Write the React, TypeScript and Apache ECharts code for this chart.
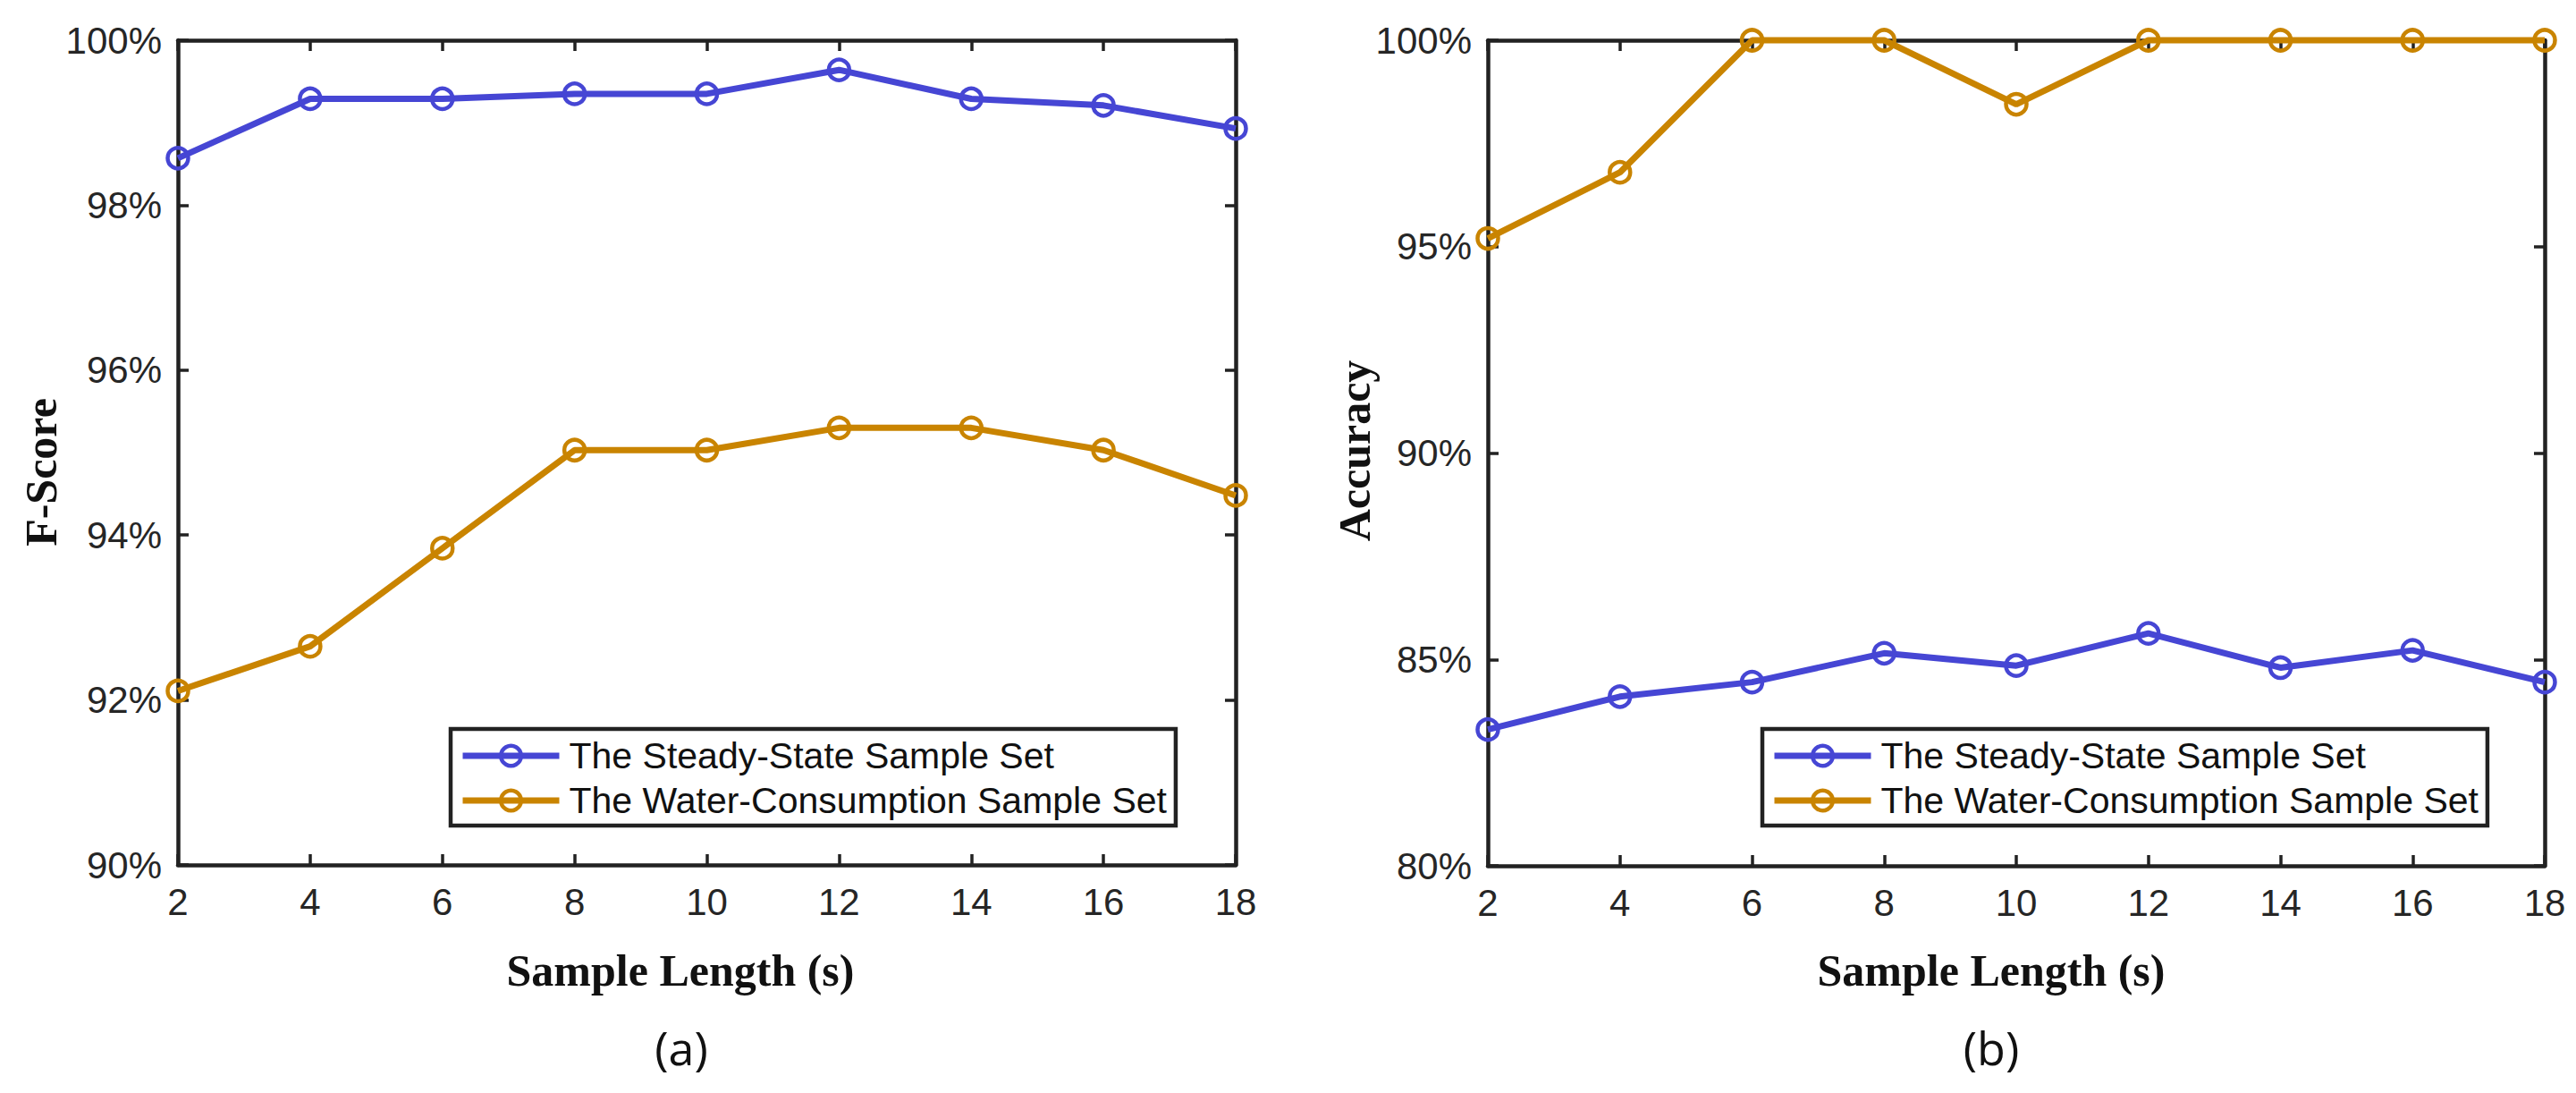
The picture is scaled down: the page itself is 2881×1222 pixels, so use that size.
import React, { useEffect, useRef } from "react";
import * as echarts from "echarts";

// ---------- data ----------
const sampleLengths = [2, 4, 6, 8, 10, 12, 14, 16, 18];
const fScoreSteady = [98.57, 99.29, 99.29, 99.35, 99.35, 99.64, 99.29, 99.21, 98.93];
const fScoreWater = [92.11, 92.65, 93.84, 95.03, 95.03, 95.3, 95.3, 95.03, 94.48];
const accuracySteady = [83.3, 84.1, 84.45, 85.15, 84.85, 85.63, 84.8, 85.22, 84.45];
const accuracyWater = [95.2, 96.8, 100, 100, 98.45, 100, 100, 100, 100];
const seriesNames = ["The Steady-State Sample Set", "The Water-Consumption Sample Set"];
const xTitle = "Sample Length (s)";
const yTitles = ["F-Score", "Accuracy"];
const panelLabels = ["(a)", "(b)"];

// ---------- style ----------
const BLUE = "#4646D4";
const ORANGE = "#C98400";
const AXIS = "#222222";
const TEXT = "#262626";
const SANS = "'Liberation Sans', Arial, sans-serif";
const SERIF = "'Liberation Serif', 'Times New Roman', serif";

const grids = [
  { left: 199, top: 45, width: 1183, height: 922 },
  { left: 1664, top: 45, width: 1182, height: 923 },
];

const pairs = (ys: number[]) => sampleLengths.map((x, i) => [x, ys[i]]);

function xAxes(gridIndex: number) {
  const common = {
    type: "value",
    gridIndex,
    min: 2,
    max: 18,
    interval: 2,
    axisLine: { show: true, onZero: false, lineStyle: { color: AXIS, width: 4.5 } },
    axisTick: { show: true, inside: true, length: 12, lineStyle: { color: AXIS, width: 3.5 } },
    splitLine: { show: false },
  };
  return [
    {
      ...common,
      position: "bottom",
      axisLabel: { show: true, margin: 20, fontSize: 42, fontFamily: SANS, color: TEXT },
    },
    { ...common, position: "top", axisLabel: { show: false } },
  ];
}

function yAxes(gridIndex: number, min: number, interval: number) {
  const common = {
    type: "value",
    gridIndex,
    min,
    max: 100,
    interval,
    axisLine: { show: true, onZero: false, lineStyle: { color: AXIS, width: 4.5 } },
    axisTick: { show: true, inside: true, length: 12, lineStyle: { color: AXIS, width: 3.5 } },
    splitLine: { show: false },
  };
  return [
    {
      ...common,
      position: "left",
      axisLabel: {
        show: true,
        margin: 18,
        fontSize: 42,
        fontFamily: SANS,
        color: TEXT,
        formatter: "{value}%",
      },
    },
    { ...common, position: "right", axisLabel: { show: false } },
  ];
}

function lineSeries(name: string, ys: number[], color: string, axisIndex: number) {
  return {
    type: "line",
    name,
    data: pairs(ys),
    xAxisIndex: axisIndex,
    yAxisIndex: axisIndex,
    clip: false,
    symbol: "circle",
    symbolSize: 23,
    lineStyle: { color, width: 7 },
    itemStyle: { color: "rgba(255,255,255,0)", borderColor: color, borderWidth: 4.5 },
    emphasis: { disabled: true },
    z: 3,
  };
}

function legend(left: number) {
  return {
    show: true,
    orient: "vertical",
    left,
    top: 815,
    data: seriesNames,
    itemWidth: 108,
    itemHeight: 28,
    itemGap: 6,
    padding: [8, 10, 6, 10],
    borderColor: AXIS,
    borderWidth: 4.5,
    backgroundColor: "#ffffff",
    selectedMode: false,
    lineStyle: { width: 7 },
    itemStyle: { borderWidth: 4.5 },
    textStyle: {
      fontSize: 41,
      fontFamily: SANS,
      color: "#111111",
      lineHeight: 44,
      padding: [0, 0, 0, 6],
    },
    z: 10,
  };
}

function titleText(text: string, x: number, y: number, rotate = false, font = "serif") {
  return {
    type: "text",
    x,
    y,
    rotation: rotate ? Math.PI / 2 : 0,
    silent: true,
    style: {
      text,
      fill: "#111111",
      font:
        font === "serif"
          ? `bold 50px ${SERIF}`
          : `normal 52px 'Open Sans', 'Noto Sans', sans-serif`,
      textAlign: "center",
      textVerticalAlign: "middle",
    },
  };
}

export default function App() {
  const ref = useRef<HTMLDivElement>(null);
  useEffect(() => {
    document.body.style.margin = "0";
    if (!ref.current) return;
    const chart = echarts.init(ref.current, undefined, { renderer: "svg" });
    const option = {
      animation: false,
      backgroundColor: "#ffffff",
      grid: grids.map((g) => ({ ...g, containLabel: false, outerBoundsMode: "none" })),
      xAxis: [...xAxes(0), ...xAxes(1)],
      yAxis: [...yAxes(0, 90, 2), ...yAxes(1, 80, 5)],
      legend: [legend(504), legend(1971)],
      series: [
        lineSeries(seriesNames[0], fScoreSteady, BLUE, 0),
        lineSeries(seriesNames[1], fScoreWater, ORANGE, 0),
        lineSeries(seriesNames[0], accuracySteady, BLUE, 2),
        lineSeries(seriesNames[1], accuracyWater, ORANGE, 2),
      ],
      graphic: [
        titleText(yTitles[0], 46, 528, true),
        titleText(yTitles[1], 1515, 504, true),
        titleText(xTitle, 761, 1085),
        titleText(xTitle, 2227, 1085),
        titleText(panelLabels[0], 762, 1170, false, "sans"),
        titleText(panelLabels[1], 2227, 1170, false, "sans"),
      ],
    };
    chart.setOption(option as any);
    return () => chart.dispose();
  }, []);
  return <div ref={ref} style={{ width: 2881, height: 1222 }} />;
}
